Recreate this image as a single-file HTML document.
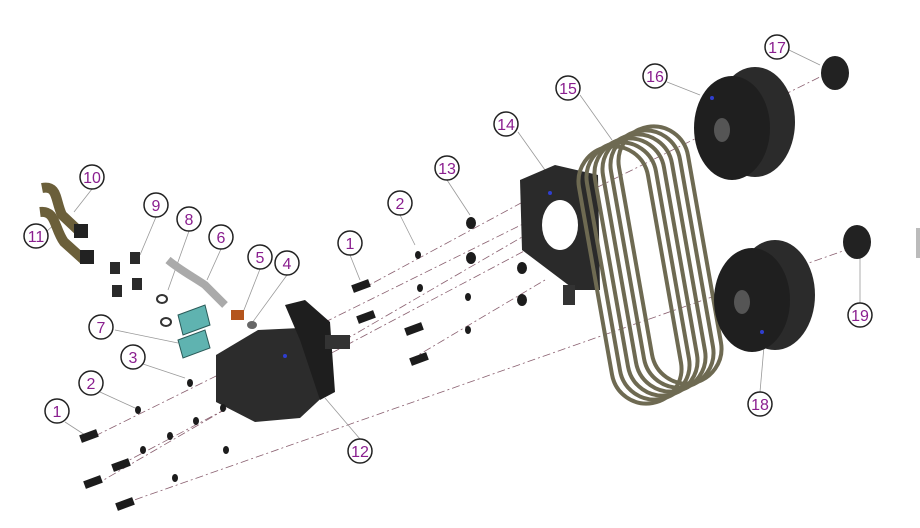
<!DOCTYPE html>
<html><head><meta charset="utf-8"><style>
html,body{margin:0;padding:0;background:#fff;width:920px;height:528px;overflow:hidden}
text{font-family:"Liberation Sans",sans-serif;font-size:16px;fill:#8a1e8f;text-anchor:middle}
</style></head><body>
<svg width="920" height="528" viewBox="0 0 920 528" xmlns="http://www.w3.org/2000/svg">
<g stroke="#8a6070" stroke-width="0.8" stroke-dasharray="8 3 2 3" fill="none">
<line x1="95" y1="436" x2="830" y2="72"/>
<line x1="95" y1="485" x2="560" y2="215"/>
<line x1="120" y1="505" x2="860" y2="245"/>
<line x1="120" y1="465" x2="545" y2="240"/>
<line x1="360" y1="290" x2="545" y2="190"/>
<line x1="410" y1="360" x2="545" y2="280"/>
</g>
<g stroke="#999" stroke-width="0.8">
<line x1="65" y1="422" x2="85" y2="435"/><line x1="100" y1="392" x2="135" y2="408"/>
<line x1="143" y1="364" x2="185" y2="378"/><line x1="115" y1="330" x2="178" y2="343"/>
<line x1="156" y1="217" x2="140" y2="255"/><line x1="189" y1="231" x2="168" y2="290"/>
<line x1="221" y1="249" x2="207" y2="280"/><line x1="260" y1="269" x2="242" y2="315"/>
<line x1="287" y1="275" x2="252" y2="323"/><line x1="92" y1="189" x2="74" y2="212"/>
<line x1="46" y1="232" x2="57" y2="222"/><line x1="360" y1="439" x2="325" y2="398"/>
<line x1="350" y1="255" x2="360" y2="280"/><line x1="400" y1="215" x2="415" y2="245"/>
<line x1="447" y1="180" x2="470" y2="215"/><line x1="518" y1="132" x2="545" y2="170"/>
<line x1="580" y1="95" x2="612" y2="140"/><line x1="667" y1="82" x2="700" y2="95"/>
<line x1="789" y1="50" x2="820" y2="65"/><line x1="760" y1="392" x2="765" y2="335"/>
<line x1="860" y1="303" x2="860" y2="250"/>
</g>
<path d="M42 188 C58 185,55 200,62 215 L80 232" stroke="#6b5f3a" stroke-width="10" fill="none"/>
<path d="M40 212 C56 210,54 228,64 242 L84 260" stroke="#6b5f3a" stroke-width="10" fill="none"/>
<rect x="74" y="224" width="14" height="14" fill="#222"/><rect x="80" y="250" width="14" height="14" fill="#222"/>
<path d="M168 260 C180 270,195 278,205 285 L225 305" stroke="#aaa" stroke-width="8" fill="none"/>
<g fill="#2a2a2a"><rect x="110" y="262" width="10" height="12"/><rect x="130" y="252" width="10" height="12"/><rect x="112" y="285" width="10" height="12"/><rect x="132" y="278" width="10" height="12"/></g>
<ellipse cx="162" cy="299" rx="5" ry="4" fill="none" stroke="#333" stroke-width="2"/>
<ellipse cx="166" cy="322" rx="5" ry="4" fill="none" stroke="#333" stroke-width="2"/>
<polygon points="178,315 205,305 210,325 183,335" fill="#5fb3b0" stroke="#2a5a58"/>
<polygon points="178,340 205,330 210,348 183,358" fill="#5fb3b0" stroke="#2a5a58"/>
<rect x="231" y="310" width="13" height="10" fill="#b4541c"/>
<ellipse cx="252" cy="325" rx="5" ry="4" fill="#666"/>
<polygon points="216,355 258,330 300,328 322,340 330,390 300,418 255,422 216,402" fill="#2c2c2c"/>
<polygon points="285,305 305,300 330,322 335,392 320,400 300,340" fill="#1e1e1e"/>
<rect x="325" y="335" width="25" height="14" fill="#333"/>
<circle cx="285" cy="356" r="2" fill="#2f3ed0"/>
<g fill="#1c1c1c">
<ellipse cx="138" cy="410" rx="3" ry="4"/><ellipse cx="190" cy="383" rx="3" ry="4"/>
<ellipse cx="143" cy="450" rx="3" ry="4"/><ellipse cx="170" cy="436" rx="3" ry="4"/><ellipse cx="196" cy="421" rx="3" ry="4"/><ellipse cx="223" cy="408" rx="3" ry="4"/>
<ellipse cx="175" cy="478" rx="3" ry="4"/><ellipse cx="226" cy="450" rx="3" ry="4"/>
<rect x="80" y="432" width="18" height="8" transform="rotate(-20 89 436)"/>
<rect x="84" y="478" width="18" height="8" transform="rotate(-20 93 482)"/>
<rect x="112" y="461" width="18" height="8" transform="rotate(-20 121 465)"/>
<rect x="116" y="500" width="18" height="8" transform="rotate(-20 125 504)"/>
<rect x="352" y="282" width="18" height="8" transform="rotate(-20 361 286)"/>
<rect x="357" y="313" width="18" height="8" transform="rotate(-20 366 317)"/>
<rect x="405" y="325" width="18" height="8" transform="rotate(-20 414 329)"/>
<rect x="410" y="355" width="18" height="8" transform="rotate(-20 419 359)"/>
<ellipse cx="418" cy="255" rx="3" ry="4"/><ellipse cx="420" cy="288" rx="3" ry="4"/><ellipse cx="468" cy="297" rx="3" ry="4"/><ellipse cx="468" cy="330" rx="3" ry="4"/>
<ellipse cx="471" cy="223" rx="5" ry="6"/><ellipse cx="471" cy="258" rx="5" ry="6"/><ellipse cx="522" cy="268" rx="5" ry="6"/><ellipse cx="522" cy="300" rx="5" ry="6"/>
</g>
<polygon points="520,180 555,165 598,175 600,290 575,290 522,250" fill="#2a2a2a"/>
<ellipse cx="560" cy="225" rx="18" ry="25" fill="#fff"/>
<rect x="563" y="285" width="12" height="20" fill="#333"/>
<circle cx="550" cy="193" r="2" fill="#2f3ed0"/>
<g fill="none" stroke="#6e6a52" stroke-width="4">
<rect x="595" y="145" width="70" height="260" rx="35" transform="rotate(-10 630 275)"/>
<rect x="603" y="141" width="70" height="260" rx="35" transform="rotate(-10 638 271)"/>
<rect x="611" y="137" width="70" height="260" rx="35" transform="rotate(-10 646 267)"/>
<rect x="619" y="133" width="70" height="260" rx="35" transform="rotate(-10 654 263)"/>
<rect x="627" y="129" width="70" height="260" rx="35" transform="rotate(-10 662 259)"/>
<rect x="635" y="125" width="70" height="260" rx="35" transform="rotate(-10 670 255)"/>
</g>
<ellipse cx="755" cy="122" rx="40" ry="55" fill="#2b2b2b"/>
<ellipse cx="732" cy="128" rx="38" ry="52" fill="#1f1f1f"/>
<ellipse cx="722" cy="130" rx="8" ry="12" fill="#555"/>
<circle cx="712" cy="98" r="2" fill="#2f3ed0"/>
<ellipse cx="775" cy="295" rx="40" ry="55" fill="#2b2b2b"/>
<ellipse cx="752" cy="300" rx="38" ry="52" fill="#1f1f1f"/>
<ellipse cx="742" cy="302" rx="8" ry="12" fill="#555"/>
<circle cx="762" cy="332" r="2" fill="#2f3ed0"/>
<ellipse cx="835" cy="73" rx="14" ry="17" fill="#222"/>
<ellipse cx="857" cy="242" rx="14" ry="17" fill="#222"/>
<rect x="916" y="228" width="4" height="30" fill="#bbb"/>
<g fill="#fff" stroke="#222" stroke-width="1.5">
<circle cx="57" cy="411" r="12"/><circle cx="91" cy="383" r="12"/><circle cx="133" cy="357" r="12"/>
<circle cx="101" cy="327" r="12"/><circle cx="156" cy="205" r="12"/><circle cx="189" cy="219" r="12"/>
<circle cx="221" cy="237" r="12"/><circle cx="260" cy="257" r="12"/><circle cx="287" cy="263" r="12"/>
<circle cx="92" cy="177" r="12"/><circle cx="36" cy="236" r="12"/><circle cx="360" cy="451" r="12"/>
<circle cx="350" cy="243" r="12"/><circle cx="400" cy="203" r="12"/><circle cx="447" cy="168" r="12"/>
<circle cx="506" cy="124" r="12"/><circle cx="568" cy="88" r="12"/><circle cx="655" cy="76" r="12"/>
<circle cx="777" cy="47" r="12"/><circle cx="760" cy="404" r="12"/><circle cx="860" cy="315" r="12"/>
</g>
<g>
<text x="57" y="417">1</text><text x="91" y="389">2</text><text x="133" y="363">3</text>
<text x="101" y="333">7</text><text x="156" y="211">9</text><text x="189" y="225">8</text>
<text x="221" y="243">6</text><text x="260" y="263">5</text><text x="287" y="269">4</text>
<text x="92" y="183">10</text><text x="36" y="242">11</text><text x="360" y="457">12</text>
<text x="350" y="249">1</text><text x="400" y="209">2</text><text x="447" y="174">13</text>
<text x="506" y="130">14</text><text x="568" y="94">15</text><text x="655" y="82">16</text>
<text x="777" y="53">17</text><text x="760" y="410">18</text><text x="860" y="321">19</text>
</g>
</svg>
</body></html>
